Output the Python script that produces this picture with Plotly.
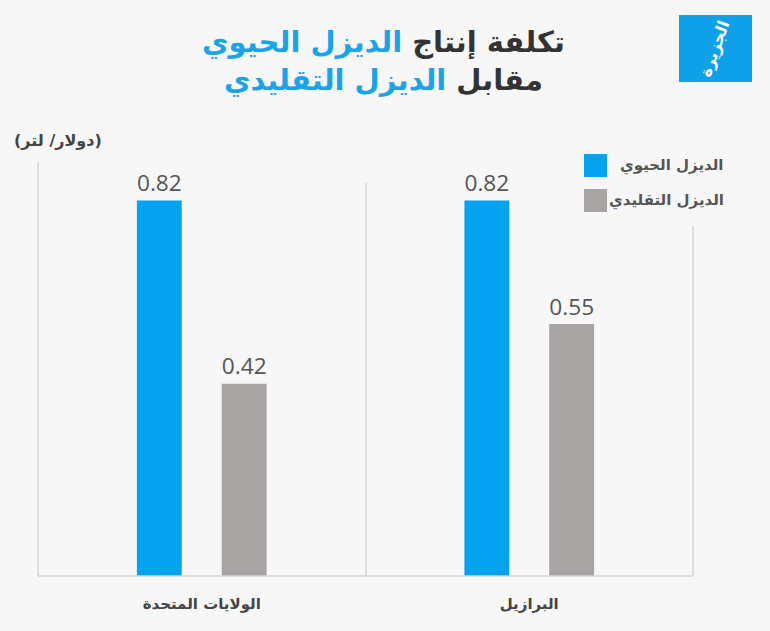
import plotly.graph_objects as go

# ---- data ----
categories = ["الولايات المتحدة", "البرازيل"]
series_names = ["الديزل الحيوي", "الديزل التقليدي"]
bio_values = [0.82, 0.82]
conv_values = [0.42, 0.55]
series_colors = ["#03a3ef", "#a8a4a3"]
unit_label = "(دولار/ لتر)"

W, H = 770, 631
L, R, T, B = 38, 77, 118, 55
PW, PH = W - L - R, H - T - B


def px(x):
    return (x - L) / PW


def py(y):
    return (H - B - y) / PH


fig = go.Figure()
fig.add_trace(go.Bar(
    x=categories, y=bio_values, name=series_names[0],
    marker=dict(color=series_colors[0], line=dict(width=0)),
    width=0.137, offset=-0.198,
    text=[f"{v:.2f}" for v in bio_values], textposition="outside",
    textfont=dict(family="Open Sans", size=25, color="#555555"),
    cliponaxis=False, showlegend=False,
))
fig.add_trace(go.Bar(
    x=categories, y=conv_values, name=series_names[1],
    marker=dict(color=series_colors[1], line=dict(width=0)),
    width=0.137, offset=0.061,
    text=[f"{v:.2f}" for v in conv_values], textposition="outside",
    textfont=dict(family="Open Sans", size=25, color="#555555"),
    cliponaxis=False, showlegend=False,
))

line_col = "#d4d4d4"
shapes = [
    dict(type="line", xref="paper", yref="paper", x0=px(38), x1=px(38), y0=0, y1=py(162),
         line=dict(color=line_col, width=1.5)),
    dict(type="line", xref="paper", yref="paper", x0=px(366), x1=px(366), y0=0, y1=py(183),
         line=dict(color=line_col, width=1.5)),
    dict(type="line", xref="paper", yref="paper", x0=px(693), x1=px(693), y0=0, y1=py(226),
         line=dict(color=line_col, width=1.5)),
    dict(type="line", xref="paper", yref="paper", x0=px(38), x1=px(693), y0=0, y1=0,
         line=dict(color=line_col, width=1.5)),
    # logo square
    dict(type="rect", xref="paper", yref="paper", x0=px(679), x1=px(752), y0=py(82), y1=py(15),
         fillcolor="#0ea1ea", line=dict(width=0)),
    # legend squares
    dict(type="rect", xref="paper", yref="paper", x0=px(584), x1=px(607), y0=py(177), y1=py(154),
         fillcolor=series_colors[0], line=dict(width=0)),
    dict(type="rect", xref="paper", yref="paper", x0=px(584), x1=px(607), y0=py(212), y1=py(189),
         fillcolor=series_colors[1], line=dict(width=0)),
]

blue = "#1aa3e8"
title_html = (
    "<b>تكلفة إنتاج <span style='color:%s'>الديزل الحيوي</span></b><br>"
    "<b>مقابل <span style='color:%s'>الديزل التقليدي</span></b>" % (blue, blue)
)

annotations = [
    dict(text=title_html, xref="paper", yref="paper", x=px(383), y=py(61),
         xanchor="center", yanchor="middle", showarrow=False, align="center",
         font=dict(family="DejaVu Sans", size=29, color="#333333"),
         ),
    dict(text="<b>" + unit_label + "</b>", xref="paper", yref="paper", x=px(12), y=py(141),
         xanchor="left", yanchor="middle", showarrow=False,
         font=dict(family="DejaVu Sans", size=16, color="#444444")),
    dict(text="<b>" + series_names[0] + "</b>", xref="paper", yref="paper", x=px(726), y=py(165),
         xanchor="right", yanchor="middle", showarrow=False,
         font=dict(family="DejaVu Sans", size=15, color="#555555")),
    dict(text="<b>" + series_names[1] + "</b>", xref="paper", yref="paper", x=px(726), y=py(200),
         xanchor="right", yanchor="middle", showarrow=False,
         font=dict(family="DejaVu Sans", size=15, color="#555555")),
    dict(text="<b>الجزيرة</b>", xref="paper", yref="paper", x=px(715), y=py(49),
         xanchor="center", yanchor="middle", showarrow=False, textangle=-70,
         font=dict(family="DejaVu Sans", size=16, color="#ffffff")),
]

fig.update_layout(
    width=W, height=H,
    margin=dict(l=L, r=R, t=T, b=B, pad=0),
    paper_bgcolor="#f7f7f7", plot_bgcolor="#f7f7f7",
    barmode="overlay",
    xaxis=dict(type="category", range=[-0.5, 1.5], showgrid=False, zeroline=False,
               showline=False, ticks="", ticklabelstandoff=17,
               tickfont=dict(family="DejaVu Sans", size=15, color="#444444", weight="bold")),
    yaxis=dict(range=[0, 1.0], showgrid=False, zeroline=False, showline=False,
               showticklabels=False, ticks=""),
    shapes=shapes, annotations=annotations,
    font=dict(family="DejaVu Sans"),
)

fig.write_html("out.html")
